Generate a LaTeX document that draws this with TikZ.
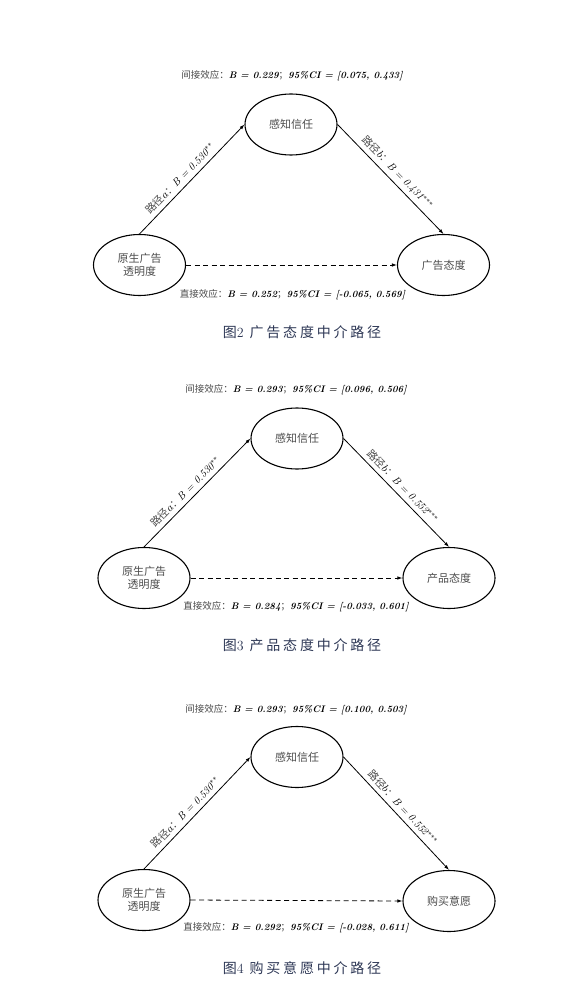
\documentclass[tikz,border=0pt]{standalone}
\usepackage{fontspec}
\usepackage{amsmath}
\usetikzlibrary{arrows.meta,shapes.geometric}
\newfontfamily\cjk{Noto Sans CJK SC}
\newfontfamily\cjkcap[LetterSpace=20]{Noto Sans CJK SC}
\definecolor{capblue}{RGB}{45,55,85}
\definecolor{cjkgray}{gray}{0.3}
\newcommand{\zh}[1]{{\cjk\color{cjkgray}#1}}
\newcommand{\effect}[3]{\zh{#1：}{\bfseries\itshape B = #2}\zh{；}{\bfseries\itshape 95\%CI = #3}}
\newcommand{\pathtxt}[3]{\zh{路径}$#1$\zh{：}{\itshape B = #2}$^{#3}$}

\begin{document}
\begin{tikzpicture}[x=1pt, y=-1pt,
    var/.style={draw, ellipse, line width=1.1pt, minimum width=92pt, minimum height=61pt,
        inner sep=0pt, align=center, font=\fontsize{11}{12.5}\selectfont},
    pathline/.style={-{Latex[length=5pt,width=3.5pt]}, line width=0.8pt},
    direct/.style={pathline, dash pattern=on 5pt off 3.5pt},
    effecttxt/.style={font=\fontsize{9.5}{11}\selectfont, inner sep=1pt},
    pathtxtstyle/.style={font=\fontsize{10.5}{12}\selectfont, inner sep=1pt, sloped, above=3pt},
    captxt/.style={font=\fontsize{14}{16}\selectfont, text=capblue}]
    \useasboundingbox (0,0) rectangle (588,992);

    % Figure 2
    \node[var] (m2) at (291,124.5) {\zh{感知信任}};
    \node[var] (x2) at (139.5,265) {\zh{原生广告}\\\zh{透明度}};
    \node[var] (y2) at (443.5,265) {\zh{广告态度}};
    \node[effecttxt] (ind2) at (292,76) {\effect{间接效应}{0.229}{[0.075, 0.433]}};
    \node[effecttxt] (dir2) at (292.5,295) {\effect{直接效应}{0.252}{[-0.065, 0.569]}};
    \node[captxt] (cap2) at (302,332) {{\cjkcap 图}2\hspace{6pt}{\cjkcap 广告态度中介路径}};
    \draw[pathline] (x2.north) -- node[pathtxtstyle, pos=0.45] (a2) {\pathtxt{a}{0.530}{**}} (m2.west);
    \draw[pathline] (m2.east) -- node[pathtxtstyle, pos=0.5] (b2) {\pathtxt{b}{0.431}{***}} (y2.north);
    \draw[direct] (x2.east) -- (y2.west);

    % Figure 3
    \node[var] (m3) at (297,438.5) {\zh{感知信任}};
    \node[var] (x3) at (144,578) {\zh{原生广告}\\\zh{透明度}};
    \node[var] (y3) at (449,578) {\zh{产品态度}};
    \node[effecttxt] (ind3) at (296,390) {\effect{间接效应}{0.293}{[0.096, 0.506]}};
    \node[effecttxt] (dir3) at (296,607) {\effect{直接效应}{0.284}{[-0.033, 0.601]}};
    \node[captxt] (cap3) at (302,645) {{\cjkcap 图}3\hspace{6pt}{\cjkcap 产品态度中介路径}};
    \draw[pathline] (x3.north) -- node[pathtxtstyle, pos=0.45] (a3) {\pathtxt{a}{0.530}{**}} (m3.west);
    \draw[pathline] (m3.east) -- node[pathtxtstyle, pos=0.5] (b3) {\pathtxt{b}{0.552}{***}} (y3.north);
    \draw[direct] (x3.east) -- (y3.west);

    % Figure 4
    \node[var] (m4) at (297,757) {\zh{感知信任}};
    \node[var] (x4) at (144,900) {\zh{原生广告}\\\zh{透明度}};
    \node[var] (y4) at (449,901) {\zh{购买意愿}};
    \node[effecttxt] (ind4) at (296,710) {\effect{间接效应}{0.293}{[0.100, 0.503]}};
    \node[effecttxt] (dir4) at (296,928) {\effect{直接效应}{0.292}{[-0.028, 0.611]}};
    \node[captxt] (cap4) at (302,968) {{\cjkcap 图}4\hspace{6pt}{\cjkcap 购买意愿中介路径}};
    \draw[pathline] (x4.north) -- node[pathtxtstyle, pos=0.45] (a4) {\pathtxt{a}{0.530}{**}} (m4.west);
    \draw[pathline] (m4.east) -- node[pathtxtstyle, pos=0.5] (b4) {\pathtxt{b}{0.552}{***}} (y4.north);
    \draw[direct] (x4.east) -- (y4.west);
\end{tikzpicture}
\end{document}
